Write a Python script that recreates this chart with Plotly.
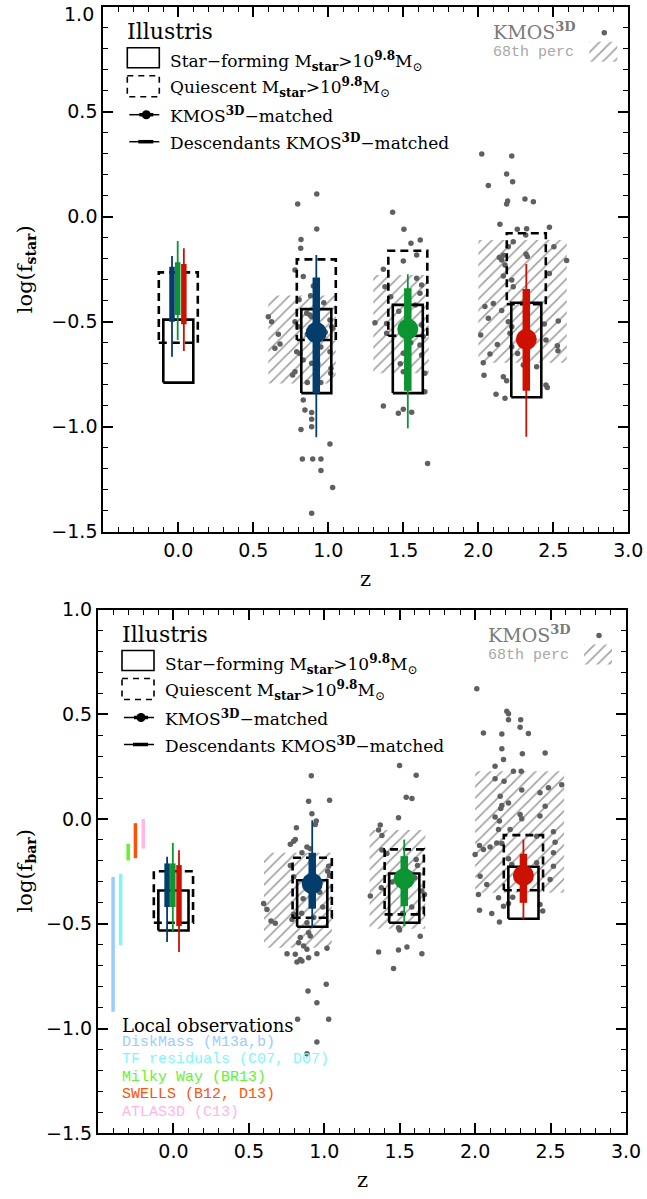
import plotly.graph_objects as go

W, H = 647, 1199

# ---------------- data ----------------
x_range = [-0.5, 3.0]
y_range = [-1.5, 1.0]
x_ticks = [0.0, 0.5, 1.0, 1.5, 2.0, 2.5, 3.0]
y_ticks = [-1.5, -1.0, -0.5, 0.0, 0.5, 1.0]

bin_colors = ["#033d6c", "#0b9431", "#cc1100"]
kmos_z = [0.92, 1.53, 2.32]              # KMOS3D-matched redshift bins
box_z = [0.0, 0.92, 1.53, 2.32]          # Illustris box centres
desc_z = [-0.042, -0.004, 0.037]         # descendants at z=0 (blue, green, red)
sf_half, q_half = 0.10, 0.13             # half widths of the boxes in z

# KMOS3D 68th percentile regions (z extent per bin)
k3d_zlo = [0.60, 1.30, 2.00]
k3d_zhi = [1.05, 1.67, 2.59]

# ---- log(f_star) ----
star_sf_lo = [-0.79, -0.84, -0.84, -0.86]
star_sf_hi = [-0.49, -0.44, -0.42, -0.41]
star_q_lo = [-0.60, -0.587, -0.567, -0.417]
star_q_hi = [-0.265, -0.203, -0.162, -0.079]
star_med = [-0.552, -0.535, -0.584]
star_in_lo = [-0.841, -0.829, -0.829]
star_in_hi = [-0.289, -0.341, -0.344]
star_out_lo = [-1.05, -1.008, -1.048]
star_out_hi = [-0.182, -0.274, -0.225]
star_desc_in_lo = [-0.50, -0.468, -0.512]
star_desc_in_hi = [-0.238, -0.217, -0.225]
star_desc_out_lo = [-0.667, -0.587, -0.64]
star_desc_out_hi = [-0.187, -0.116, -0.15]
star_k3d_lo = [-0.794, -0.746, -0.695]
star_k3d_hi = [-0.375, -0.278, -0.111]

star_gal_z = [
    0.923, 0.796, 0.923, 0.818, 0.816, 0.778, 0.833, 0.882, 0.805, 0.856, 0.878, 0.889,
    0.600, 0.622, 0.778, 0.800, 0.667, 0.678, 0.644, 0.789, 0.811, 0.833, 0.889, 0.762,
    0.778, 1.022, 1.011, 1.029, 1.011, 1.018, 1.016, 0.833, 0.844, 0.889, 0.889, 0.889,
    0.818, 1.011, 0.827, 0.896, 0.951, 0.951, 1.029, 0.889, 0.860, 0.950, 0.900, 0.970,
    0.860, 0.950, 0.980, 0.930,
    1.429, 1.504, 1.551, 1.613, 1.589, 1.500, 1.367, 1.589, 1.378, 1.416, 1.622, 1.611,
    1.311, 1.389, 1.389, 1.622, 1.633, 1.611, 1.622, 1.500, 1.500, 1.644, 1.522, 1.367,
    1.500, 1.467, 1.556, 1.644, 1.662, 1.470, 1.550, 1.480, 1.580,
    2.023, 2.223, 2.189, 2.229, 2.067, 2.196, 2.189, 2.311, 2.367, 2.144, 2.260, 2.322,
    2.316, 2.474, 2.233, 2.200, 2.167, 2.156, 2.140, 2.178, 2.318, 2.327, 2.504, 2.589,
    2.474, 2.167, 2.223, 2.233, 2.044, 2.067, 2.100, 2.156, 2.200, 2.223, 2.211, 2.440,
    2.533, 2.016, 2.127, 2.078, 2.223, 2.262, 2.451, 2.527, 2.531, 2.033, 2.038, 2.167,
    2.189, 2.389, 2.451, 2.460, 2.118, 2.178, 2.300,
]
star_gal_v = [
    0.108, 0.060, -0.059, -0.108, -0.150, -0.254, -0.285, -0.377, -0.396, -0.460, -0.468, -0.476,
    -0.476, -0.500, -0.500, -0.524, -0.560, -0.606, -0.627, -0.643, -0.651, -0.682, -0.698, -0.754,
    -0.738, -0.524, -0.492, -0.531, -0.643, -0.722, -0.746, -0.873, -0.920, -0.932, -0.965, -1.000,
    -1.013, -1.082, -1.154, -1.154, -1.154, -1.209, -1.289, -1.412, -0.560, -0.620, -0.330, -0.410,
    -0.790, -0.790, -0.550, -0.700,
    0.021, -0.060, -0.127, -0.111, -0.182, -0.211, -0.250, -0.293, -0.333, -0.381, -0.325, -0.365,
    -0.505, -0.508, -0.555, -0.516, -0.571, -0.611, -0.658, -0.650, -0.738, -0.746, -0.794, -0.901,
    -0.917, -0.936, -0.931, -0.833, -1.175, -0.450, -0.600, -0.700, -0.420,
    0.299, 0.289, 0.203, 0.167, 0.148, 0.075, 0.060, 0.084, 0.071, -0.036, -0.060, -0.057,
    -0.087, -0.050, -0.119, -0.143, -0.183, -0.206, -0.194, -0.230, -0.178, -0.190, -0.143, -0.209,
    -0.270, -0.282, -0.302, -0.333, -0.428, -0.484, -0.413, -0.447, -0.500, -0.524, -0.555, -0.511,
    -0.497, -0.563, -0.609, -0.654, -0.619, -0.651, -0.587, -0.614, -0.638, -0.695, -0.755, -0.762,
    -0.781, -0.714, -0.802, -0.813, -0.846, -0.865, -0.706,
]

# ---- log(f_bar) ----
bar_sf_lo = [-0.532, -0.514, -0.495, -0.476]
bar_sf_hi = [-0.341, -0.292, -0.260, -0.228]
bar_q_lo = [-0.495, -0.471, -0.455, -0.340]
bar_q_hi = [-0.249, -0.185, -0.145, -0.077]
bar_med = [-0.308, -0.285, -0.269]
bar_in_lo = [-0.428, -0.416, -0.400]
bar_in_hi = [-0.161, -0.177, -0.166]
bar_out_lo = [-0.519, -0.511, -0.479]
bar_out_hi = [-0.006, -0.098, -0.098]
bar_desc_in_lo = [-0.42, -0.42, -0.511]
bar_desc_in_hi = [-0.212, -0.212, -0.220]
bar_desc_out_lo = [-0.587, -0.535, -0.635]
bar_desc_out_hi = [-0.180, -0.114, -0.149]
bar_k3d_lo = [-0.614, -0.524, -0.352]
bar_k3d_hi = [-0.161, -0.053, 0.228]

bar_gal_z = [
    0.914, 0.896, 1.035, 0.918, 0.947, 0.940, 0.815, 0.775, 0.797, 0.808, 0.885, 0.907,
    0.852, 0.775, 0.797, 1.029, 1.022, 1.035, 0.598, 0.620, 0.647, 0.675, 0.786, 0.797,
    0.885, 0.896, 0.907, 0.841, 0.830, 0.863, 0.885, 1.018, 0.753, 0.808, 0.841, 0.819,
    0.852, 0.896, 0.951, 0.892, 1.013, 0.951, 0.823, 1.029, 0.951, 0.885, 0.860, 0.970,
    0.850, 0.990, 0.930,
    1.499, 1.609, 1.543, 1.581, 1.492, 1.371, 1.360, 1.382, 1.382, 1.415, 1.609, 1.618,
    1.305, 1.378, 1.647, 1.664, 1.492, 1.499, 1.636, 1.360, 1.492, 1.548, 1.647, 1.459,
    1.450, 1.580, 1.520, 1.600,
    2.011, 2.210, 2.221, 2.221, 2.302, 2.298, 2.353, 2.055, 2.177, 2.177, 2.313, 2.464,
    2.188, 2.132, 2.132, 2.254, 2.305, 2.192, 2.166, 2.177, 2.170, 2.221, 2.309, 2.430,
    2.486, 2.574, 2.464, 2.430, 2.298, 2.309, 2.132, 2.161, 2.155, 2.232, 2.143, 2.055,
    2.029, 2.099, 2.000, 2.177, 2.221, 2.243, 2.519, 2.530, 2.519, 2.519, 2.497, 2.408,
    2.033, 2.077, 2.022, 2.155, 2.249, 2.188, 2.221, 2.029, 2.110, 2.161, 2.448, 2.430,
    2.408,
]
bar_gal_v = [
    0.207, 0.085, 0.090, 0.025, -0.010, -0.026, -0.042, -0.121, -0.106, -0.098, -0.133, -0.142,
    -0.161, -0.222, -0.276, -0.225, -0.249, -0.270, -0.403, -0.432, -0.487, -0.498, -0.479, -0.455,
    -0.495, -0.543, -0.558, -0.566, -0.590, -0.606, -0.622, -0.617, -0.643, -0.646, -0.670, -0.683,
    -0.678, -0.662, -0.643, -0.821, -0.789, -0.877, -0.956, -0.956, -1.064, -1.120, -0.380, -0.350,
    -0.450, -0.420, -0.470,
    0.255, 0.209, 0.104, 0.098, 0.006, -0.029, -0.053, -0.079, -0.148, -0.164, -0.193, -0.222,
    -0.368, -0.328, -0.344, -0.360, -0.519, -0.530, -0.559, -0.635, -0.625, -0.611, -0.643, -0.714,
    -0.300, -0.420, -0.450, -0.280,
    0.622, 0.514, 0.503, 0.474, 0.474, 0.438, 0.408, 0.411, 0.406, 0.335, 0.311, 0.315,
    0.284, 0.252, 0.192, 0.228, 0.228, 0.180, 0.109, 0.064, 0.050, 0.077, 0.138, 0.125,
    0.149, 0.164, 0.061, 0.014, 0.021, 0.001, 0.010, -0.010, -0.050, -0.050, -0.114, -0.145,
    -0.126, -0.134, -0.169, -0.117, -0.190, -0.217, -0.061, -0.111, -0.161, -0.225, -0.289, -0.082,
    -0.273, -0.312, -0.360, -0.376, -0.373, -0.416, -0.403, -0.435, -0.451, -0.492, -0.439, -0.408,
    -0.209,
]

# local observational constraints on f_bar
local_names = ["DiskMass (M13a,b)", "TF residuals (C07, D07)", "Milky Way (BR13)",
               "SWELLS (B12, D13)", "ATLAS3D (C13)"]
local_colors = ["#99ccff", "#7ff6ff", "#66f033", "#ff5208", "#ffb6e8"]
local_z = [-0.40, -0.35, -0.30, -0.252, -0.20]
local_lo = [-0.92, -0.602, -0.198, -0.187, -0.141]
local_hi = [-0.276, -0.261, -0.118, -0.020, 0.0]

# ---------------- layout geometry (pixels) ----------------
frames = [
    dict(L=103.3, R=628.3, T=6.7, B=531.7, xa="x", ya="y"),
    dict(L=98.0, R=626.0, T=609.5, B=1133.3, xa="x2", ya="y2"),
]
SERIF = "DejaVu Serif"
SANS = "DejaVu Sans"
MONO = "Liberation Mono"
DOT = "#606060"
HATCH = "#a0a0a0"


def paper_x(xp):
    return xp / W


def paper_y(yp):
    return 1 - yp / H


def to_data(fr, xp, yp):
    z = x_range[0] + (xp - fr["L"]) / (fr["R"] - fr["L"]) * (x_range[1] - x_range[0])
    v = y_range[1] - (yp - fr["T"]) / (fr["B"] - fr["T"]) * (y_range[1] - y_range[0])
    return z, v


fig = go.Figure()


def hatch(fr, z0, z1, v0, v1):
    fig.add_trace(go.Scatter(
        x=[z0, z1, z1, z0, z0], y=[v0, v0, v1, v1, v0],
        xaxis=fr["xa"], yaxis=fr["ya"], mode="lines",
        line=dict(width=0, color="rgba(0,0,0,0)"),
        fill="toself", fillcolor="rgba(0,0,0,0)",
        fillpattern=dict(shape="/", fgcolor=HATCH, bgcolor="rgba(0,0,0,0)",
                         size=8, solidity=0.2),
        hoverinfo="skip", showlegend=False))


def segment(fr, xs, ys, color, width, dash="solid"):
    fig.add_trace(go.Scatter(
        x=xs, y=ys, xaxis=fr["xa"], yaxis=fr["ya"], mode="lines",
        line=dict(color=color, width=width, dash=dash),
        hoverinfo="skip", showlegend=False))


def draw_panel(fr, gal_z, gal_v, k3d_lo, k3d_hi, sf_lo, sf_hi, q_lo, q_hi,
               med, in_lo, in_hi, out_lo, out_hi, d_in_lo, d_in_hi, d_out_lo, d_out_hi):
    for i in range(3):
        hatch(fr, k3d_zlo[i], k3d_zhi[i], k3d_lo[i], k3d_hi[i])
    fig.add_trace(go.Scatter(
        x=gal_z, y=gal_v, xaxis=fr["xa"], yaxis=fr["ya"], mode="markers",
        marker=dict(size=5.5, color=DOT), hoverinfo="skip", showlegend=False))
    for i, zc in enumerate(box_z):
        segment(fr, [zc - q_half, zc + q_half, zc + q_half, zc - q_half, zc - q_half],
                [q_lo[i], q_lo[i], q_hi[i], q_hi[i], q_lo[i]], "black", 2.6, "8px,5px")
        segment(fr, [zc - sf_half, zc + sf_half, zc + sf_half, zc - sf_half, zc - sf_half],
                [sf_lo[i], sf_lo[i], sf_hi[i], sf_hi[i], sf_lo[i]], "black", 2.6)
    for i in range(3):
        c = bin_colors[i]
        segment(fr, [desc_z[i], desc_z[i]], [d_out_lo[i], d_out_hi[i]], c, 1.8)
        segment(fr, [desc_z[i], desc_z[i]], [d_in_lo[i], d_in_hi[i]], c, 5.5)
    for i in range(3):
        c = bin_colors[i]
        segment(fr, [kmos_z[i], kmos_z[i]], [out_lo[i], out_hi[i]], c, 1.8)
        segment(fr, [kmos_z[i], kmos_z[i]], [in_lo[i], in_hi[i]], c, 7.5)
        fig.add_trace(go.Scatter(
            x=[kmos_z[i]], y=[med[i]], xaxis=fr["xa"], yaxis=fr["ya"], mode="markers",
            marker=dict(size=21, color=c, line=dict(width=0)), hoverinfo="skip", showlegend=False))


draw_panel(frames[0], star_gal_z, star_gal_v, star_k3d_lo, star_k3d_hi,
           star_sf_lo, star_sf_hi, star_q_lo, star_q_hi, star_med,
           star_in_lo, star_in_hi, star_out_lo, star_out_hi,
           star_desc_in_lo, star_desc_in_hi, star_desc_out_lo, star_desc_out_hi)
draw_panel(frames[1], bar_gal_z, bar_gal_v, bar_k3d_lo, bar_k3d_hi,
           bar_sf_lo, bar_sf_hi, bar_q_lo, bar_q_hi, bar_med,
           bar_in_lo, bar_in_hi, bar_out_lo, bar_out_hi,
           bar_desc_in_lo, bar_desc_in_hi, bar_desc_out_lo, bar_desc_out_hi)

# local observations in the f_bar panel
for i in range(len(local_names)):
    segment(frames[1], [local_z[i], local_z[i]], [local_lo[i], local_hi[i]], local_colors[i], 3.5)

annotations = []
shapes = []


def text(xp, yp, s, size, color="black", family=SERIF, xanchor="left"):
    annotations.append(dict(
        x=paper_x(xp), y=paper_y(yp), xref="paper", yref="paper", text=s,
        showarrow=False, xanchor=xanchor, yanchor="middle", borderpad=0,
        font=dict(family=family, size=size, color=color)))


def tick_text(v):
    return f"{v:.1f}".replace("-", "\u2212")


SUB = "<sub><span style='font-size:12px;font-weight:bold'>star</span></sub>"
SUP = "<sup><span style='font-size:12px;font-weight:bold'>9.8</span></sup>"
SUN = "<sub><span style='font-size:12px'>\u2299</span></sub>"
SUP3D = "<sup><span style='font-size:12px;font-weight:bold'>3D</span></sup>"

for k, fr in enumerate(frames):
    L, T, R, B = fr["L"], fr["T"], fr["R"], fr["B"]
    # Illustris key
    text(L + 23, T + 25, "Illustris", 22)
    shapes.append(dict(type="rect", xref="paper", yref="paper",
                       x0=paper_x(L + 24), x1=paper_x(L + 56), y0=paper_y(T + 41), y1=paper_y(T + 61),
                       line=dict(color="black", width=1.6)))
    text(L + 66, T + 55, "Star\u2212forming M" + SUB + "&gt;10" + SUP + "M" + SUN, 17)
    shapes.append(dict(type="rect", xref="paper", yref="paper",
                       x0=paper_x(L + 24), x1=paper_x(L + 56), y0=paper_y(T + 69), y1=paper_y(T + 90),
                       line=dict(color="black", width=1.6, dash="6px,5px")))
    text(L + 66, T + 81, "Quiescent M" + SUB + "&gt;10" + SUP + "M" + SUN, 17)
    shapes.append(dict(type="line", xref="paper", yref="paper",
                       x0=paper_x(L + 26), x1=paper_x(L + 56), y0=paper_y(T + 108), y1=paper_y(T + 108),
                       line=dict(color="black", width=1.5)))
    shapes.append(dict(type="line", xref="paper", yref="paper",
                       x0=paper_x(L + 36), x1=paper_x(L + 50), y0=paper_y(T + 108), y1=paper_y(T + 108),
                       line=dict(color="black", width=3.5)))
    shapes.append(dict(type="circle", xref="paper", yref="paper",
                       x0=paper_x(L + 38.5), x1=paper_x(L + 47.5), y0=paper_y(T + 103.5), y1=paper_y(T + 112.5),
                       fillcolor="black", line=dict(color="black", width=0)))
    text(L + 66, T + 108, "KMOS" + SUP3D + "\u2212matched", 17)
    shapes.append(dict(type="line", xref="paper", yref="paper",
                       x0=paper_x(L + 26), x1=paper_x(L + 56), y0=paper_y(T + 135), y1=paper_y(T + 135),
                       line=dict(color="black", width=1.5)))
    shapes.append(dict(type="line", xref="paper", yref="paper",
                       x0=paper_x(L + 35), x1=paper_x(L + 50), y0=paper_y(T + 135), y1=paper_y(T + 135),
                       line=dict(color="black", width=3.5)))
    text(L + 66, T + 135, "Descendants KMOS" + SUP3D + "\u2212matched", 17)

    # KMOS3D key (top right)
    text(L + 389, T + 24, "KMOS<sup><span style='font-size:13px;font-weight:bold'>3D</span></sup>",
         19, color="#7a7a7a")
    text(L + 389, T + 46, "68th perc", 15, color="#a8a8a8", family=MONO)
    hz0, hv0 = to_data(fr, L + 486, T + 55)
    hz1, hv1 = to_data(fr, L + 514, T + 35)
    hatch(fr, hz0, hz1, hv0, hv1)
    dz, dv = to_data(fr, L + 501, T + 26)
    fig.add_trace(go.Scatter(x=[dz], y=[dv], xaxis=fr["xa"], yaxis=fr["ya"], mode="markers",
                             marker=dict(size=5.5, color=DOT), hoverinfo="skip", showlegend=False))

    # axis titles
    text((L + R) / 2, B + 47, "z", 21, xanchor="center")
    ylab = ("log(f<sub><span style='font-size:14px;font-weight:bold'>star</span></sub>)" if k == 0
            else "log(f<sub><span style='font-size:14px;font-weight:bold'>bar</span></sub>)")
    annotations.append(dict(
        x=paper_x(26), y=paper_y((T + B) / 2), xref="paper", yref="paper", text=ylab,
        showarrow=False, xanchor="center", yanchor="middle", textangle=-90,
        font=dict(family=SERIF, size=21, color="black")))

# the top label of the upper panel sits just inside the page edge
text(frames[0]["L"] - 8, 14, tick_text(y_ticks[-1]), 19, family=SANS, xanchor="right")

# local observations key
text(120.7, 1025, "Local observations", 18)
for i, name in enumerate(local_names):
    text(120.7, 1042.5 + 17.4 * i, name, 15, color=local_colors[i], family=MONO)


def axis_style(domain, vals, labels, rng, anchor):
    return dict(
        domain=domain, range=rng, anchor=anchor, automargin=False,
        showline=True, linecolor="black", linewidth=2, mirror="ticks",
        ticks="inside", ticklen=10, tickwidth=1.5, tickcolor="black",
        tickvals=vals, ticktext=labels, ticklabeloverflow="allow",
        minor=dict(ticks="inside", ticklen=5, tickwidth=1.2, tickcolor="black", dtick=0.1,
                   tick0=0.0, showgrid=False),
        showgrid=False, zeroline=False,
        tickfont=dict(family=SANS, size=19, color="black"),
        fixedrange=True,
    )


x_labels = [tick_text(v) for v in x_ticks]
y_labels = [tick_text(v) for v in y_ticks]
y_labels_top = y_labels[:-1] + [""]

fr0, fr1 = frames
layout = dict(
    template="none",
    width=W, height=H, margin=dict(l=0, r=0, t=0, b=0, pad=0, autoexpand=False),
    paper_bgcolor="white", plot_bgcolor="white", showlegend=False,
    xaxis=axis_style([paper_x(fr0["L"]), paper_x(fr0["R"])], x_ticks, x_labels, x_range, "y"),
    yaxis=axis_style([paper_y(fr0["B"]), paper_y(fr0["T"])], y_ticks, y_labels_top, y_range, "x"),
    xaxis2=axis_style([paper_x(fr1["L"]), paper_x(fr1["R"])], x_ticks, x_labels, x_range, "y2"),
    yaxis2=axis_style([paper_y(fr1["B"]), paper_y(fr1["T"])], y_ticks, y_labels, y_range, "x2"),
    annotations=annotations, shapes=shapes,
)
fig.update_layout(**layout)
fig.write_html("out.html")
